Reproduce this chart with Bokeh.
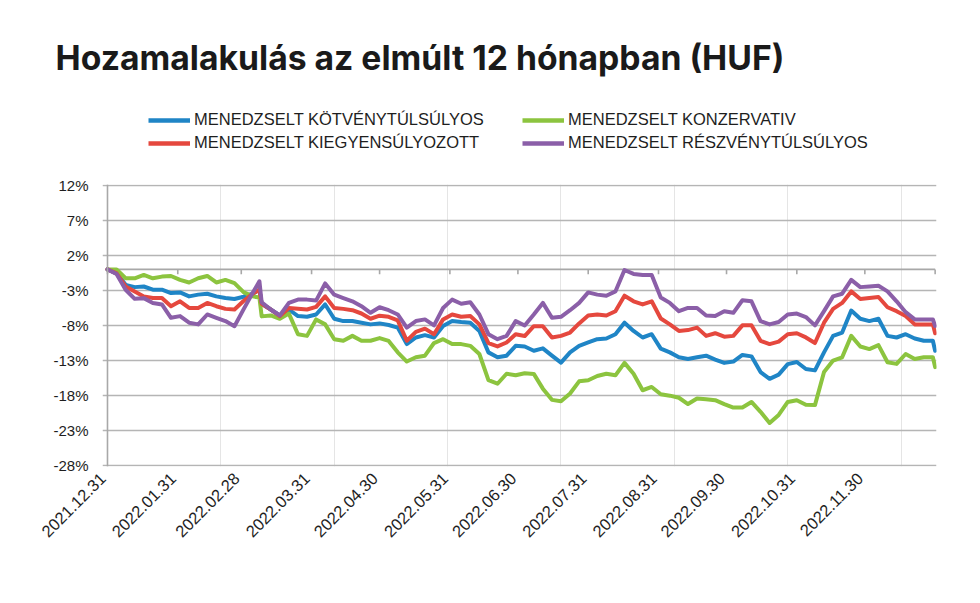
import math
import datetime as dt
from bokeh.plotting import figure
from bokeh.layouts import column
from bokeh.models import (ColumnDataSource, FixedTicker, Legend, LegendItem, Label,
                          Span, Range1d, LinearAxis)
from bokeh.embed import file_html
from bokeh.resources import INLINE

# ---------------- data ----------------
dates = [
    "2021-12-31", "2022-01-04", "2022-01-08", "2022-01-12", "2022-01-16", "2022-01-20",
    "2022-01-24", "2022-01-28", "2022-02-01", "2022-02-05", "2022-02-09", "2022-02-13",
    "2022-02-17", "2022-02-21", "2022-02-25", "2022-03-01", "2022-03-05", "2022-03-08",
    "2022-03-09", "2022-03-13", "2022-03-17", "2022-03-21", "2022-03-25", "2022-03-29",
    "2022-04-02", "2022-04-06", "2022-04-10", "2022-04-14", "2022-04-18", "2022-04-22",
    "2022-04-26", "2022-04-30", "2022-05-04", "2022-05-08", "2022-05-12", "2022-05-16",
    "2022-05-20", "2022-05-24", "2022-05-28", "2022-06-01", "2022-06-05", "2022-06-09",
    "2022-06-13", "2022-06-17", "2022-06-21", "2022-06-25", "2022-06-29", "2022-07-03",
    "2022-07-07", "2022-07-11", "2022-07-15", "2022-07-19", "2022-07-23", "2022-07-27",
    "2022-07-31", "2022-08-04", "2022-08-08", "2022-08-12", "2022-08-16", "2022-08-20",
    "2022-08-24", "2022-08-28", "2022-09-01", "2022-09-05", "2022-09-09", "2022-09-13",
    "2022-09-17", "2022-09-21", "2022-09-25", "2022-09-29", "2022-10-03", "2022-10-07",
    "2022-10-11", "2022-10-15", "2022-10-19", "2022-10-23", "2022-10-27", "2022-10-31",
    "2022-11-04", "2022-11-08", "2022-11-12", "2022-11-16", "2022-11-20", "2022-11-24",
    "2022-11-28", "2022-12-02", "2022-12-06", "2022-12-10", "2022-12-14", "2022-12-18",
    "2022-12-22", "2022-12-26", "2022-12-30", "2022-12-31",
]

kotveny = [
    0.0, -0.56, -2.2, -2.53, -2.44, -2.9, -2.9, -3.38, -3.28, -3.85, -3.6, -3.47,
    -3.85, -4.08, -4.22, -3.9, -3.47, -2.9, -4.9, -5.72, -6.57, -5.72, -6.66, -6.76,
    -6.43, -5.0, -7.04, -7.37, -7.37, -7.6, -7.84, -7.7, -7.93, -8.3, -10.65, -9.71,
    -9.38, -9.71, -8.07, -7.37, -7.5, -7.6, -8.77, -11.83, -12.53, -12.3, -10.9, -11.0,
    -11.6, -11.26, -12.3, -13.3, -11.83, -10.9, -10.42, -9.95, -9.85, -9.24, -7.6, -8.77,
    -9.71, -9.24, -11.3, -11.83, -12.53, -12.77, -12.53, -12.3, -12.86, -13.33, -13.14, -12.2,
    -12.4, -14.64, -15.6, -15.0, -13.5, -13.2, -14.2, -14.4, -11.83, -9.48, -9.0, -5.87,
    -7.04, -7.37, -7.04, -9.48, -9.71, -9.24, -9.85, -10.18, -10.18, -11.6,
]

kiegyensulyozott = [
    0.0, -0.56, -2.44, -3.14, -3.85, -4.08, -4.08, -5.25, -4.55, -5.5, -5.5, -4.78,
    -5.25, -5.63, -5.72, -4.5, -3.47, -2.9, -4.9, -5.72, -6.66, -5.5, -5.6, -5.72,
    -5.35, -3.85, -5.5, -5.63, -5.82, -6.29, -7.04, -6.6, -6.76, -7.27, -10.18, -8.9,
    -8.45, -9.24, -7.13, -6.43, -6.76, -6.66, -7.84, -10.5, -10.98, -10.42, -9.24, -9.5,
    -8.1, -8.1, -9.71, -9.48, -9.0, -7.7, -6.57, -6.43, -6.57, -5.96, -3.75, -4.55,
    -5.0, -4.55, -7.0, -7.84, -8.77, -8.65, -8.3, -9.48, -9.1, -9.6, -9.48, -7.98,
    -7.98, -10.18, -10.65, -10.3, -9.24, -9.1, -9.7, -10.5, -7.6, -5.63, -4.78, -3.14,
    -4.22, -4.08, -3.94, -5.4, -5.96, -6.66, -7.84, -7.84, -7.84, -9.1,
]

konzervativ = [
    0.0, 0.0, -1.27, -1.27, -0.8, -1.27, -1.03, -0.94, -1.5, -1.87, -1.27, -0.94,
    -1.87, -1.5, -1.97, -3.25, -3.85, -4.0, -6.7, -6.57, -7.04, -6.3, -9.24, -9.48,
    -7.13, -7.84, -9.95, -10.18, -9.48, -10.18, -10.18, -9.8, -10.2, -11.83, -13.14, -12.53,
    -12.3, -10.5, -9.95, -10.65, -10.65, -10.9, -12.06, -15.8, -16.3, -14.88, -15.1, -14.8,
    -14.9, -17.0, -18.6, -18.8, -17.7, -15.96, -15.8, -15.2, -14.88, -15.1, -13.33, -14.88,
    -17.23, -16.76, -17.8, -18.0, -18.3, -19.2, -18.4, -18.5, -18.65, -19.2, -19.7, -19.7,
    -18.9, -20.3, -21.9, -20.75, -18.9, -18.65, -19.3, -19.35, -14.64, -13.0, -12.53, -9.48,
    -11.0, -11.36, -10.8, -13.23, -13.47, -12.06, -12.77, -12.53, -12.53, -13.94,
]

reszveny = [
    0.0, -0.65, -2.9, -4.2, -4.1, -4.78, -5.0, -6.9, -6.66, -7.6, -7.84, -6.43,
    -6.9, -7.37, -8.1, -5.7, -3.38, -1.7, -4.7, -5.72, -6.57, -4.78, -4.31, -4.31,
    -4.45, -2.0, -3.6, -4.08, -4.55, -5.25, -6.19, -5.4, -5.82, -6.43, -8.3, -7.37,
    -7.13, -7.98, -5.5, -4.31, -4.9, -4.69, -6.43, -9.24, -9.95, -9.48, -7.37, -8.0,
    -6.43, -4.78, -6.9, -6.76, -5.82, -4.78, -3.28, -3.6, -3.75, -3.14, -0.09, -0.65,
    -0.8, -0.8, -4.0, -4.78, -5.96, -5.5, -5.5, -6.57, -6.66, -5.96, -6.19, -4.4,
    -4.55, -7.37, -7.84, -7.5, -6.43, -6.3, -6.8, -7.98, -5.96, -3.85, -3.47, -1.5,
    -2.53, -2.44, -2.34, -3.14, -4.55, -6.1, -7.13, -7.13, -7.13, -8.07,
]

series_names = [
    "MENEDZSELT KÖTVÉNYTÚLSÚLYOS",
    "MENEDZSELT KONZERVATIV",
    "MENEDZSELT KIEGYENSÚLYOZOTT",
    "MENEDZSELT RÉSZVÉNYTÚLSÚLYOS",
]
series_colors = ["#1f85c6", "#8cc43f", "#e5483e", "#8b5fa8"]

tick_dates = ["2021-12-31", "2022-01-31", "2022-02-28", "2022-03-31", "2022-04-30",
              "2022-05-31", "2022-06-30", "2022-07-31", "2022-08-31", "2022-09-30",
              "2022-10-31", "2022-11-30", "2022-12-31"]
tick_labels = ["2021.12.31", "2022.01.31", "2022.02.28", "2022.03.31", "2022.04.30",
               "2022.05.31", "2022.06.30", "2022.07.31", "2022.08.31", "2022.09.30",
               "2022.10.31", "2022.11.30", ""]
y_ticks = [-28, -23, -18, -13, -8, -3, 2, 7, 12]

title_text = "Hozamalakulás az elmúlt 12 hónapban (HUF)"

# ---------------- helpers ----------------
origin = dt.date(2021, 12, 31)


def day_of(s):
    return (dt.date.fromisoformat(s) - origin).days


days = [day_of(d) for d in dates]
tick_days = [day_of(d) for d in tick_dates]

LABEL_FONT = "Liberation Sans"
GRID = "#b5b5b5"
AXIS = "#a8a8a8"
TEXT = "#1e1e1e"
HEADER_H = 160
X_START, X_END = -2.2, 365.6   # grid lines reach a little left of the value axis
LABEL_SHIFT = 2.1              # rotated date labels end just left of their tick

# ---------------- header (title + legend) ----------------
hp = figure(width=980, height=HEADER_H, output_backend="svg", toolbar_location=None,
            x_range=Range1d(0, 980), y_range=Range1d(HEADER_H, 0),
            x_axis_location=None, y_axis_location=None, min_border=0)
hp.outline_line_color = None
hp.grid.visible = False
hp.background_fill_color = "white"
hp.border_fill_color = "white"
try:
    hp.frame_align = False
except Exception:
    pass

hp.add_layout(Label(x=55, y=57, text=title_text, text_font="Inter",
                    text_font_style="bold", text_font_size="33.7px",
                    text_color="#1a1a1a", text_baseline="alphabetic"))

dummy = [hp.line(x=[0, 1], y=[1000, 1000], line_color=c, line_width=4.5)
         for c in series_colors]
items = [LegendItem(label=n, renderers=[r]) for n, r in zip(series_names, dummy)]
legend = Legend(items=items, location=(148, HEADER_H - 152), ncols=2,
                orientation="horizontal",
                glyph_width=42, glyph_height=18, label_height=18, label_standoff=4,
                label_width=324, spacing=4, padding=0, margin=0,
                label_text_font=LABEL_FONT, label_text_font_size="16.5px",
                label_text_color=TEXT,
                border_line_alpha=0, background_fill_alpha=0)
hp.add_layout(legend, "center")

# ---------------- main chart ----------------
p = figure(width=980, height=603 - HEADER_H, output_backend="svg", toolbar_location=None,
           x_range=Range1d(X_START, X_END), y_range=Range1d(-28.1, 12.1),
           x_axis_location=None,
           min_border_left=102, min_border_right=44, min_border_top=184 - HEADER_H,
           min_border_bottom=137)
p.outline_line_color = None
p.background_fill_color = "white"
p.border_fill_color = "white"
try:
    p.frame_align = False
except Exception:
    pass

p.ygrid.ticker = FixedTicker(ticks=y_ticks)
p.ygrid.grid_line_color = GRID
p.ygrid.grid_line_width = 1.6

p.yaxis.ticker = FixedTicker(ticks=y_ticks)
p.yaxis.major_label_overrides = {t: f"{t}%" for t in y_ticks}
p.yaxis.axis_line_color = None
p.yaxis.major_tick_line_color = None
p.yaxis.minor_tick_line_color = None
p.yaxis.major_label_text_font = LABEL_FONT
p.yaxis.major_label_text_font_size = "15px"
p.yaxis.major_label_text_color = TEXT
p.yaxis.major_label_standoff = 8

# value axis line at the first date
p.add_layout(Span(location=tick_days[0], dimension="height", line_color=AXIS,
                  line_width=1.6))

# date labels on a slightly shifted range so that their ends meet the ticks
p.extra_x_ranges = {"labels": Range1d(X_START + LABEL_SHIFT, X_END + LABEL_SHIFT)}
xaxis = LinearAxis(x_range_name="labels", ticker=FixedTicker(ticks=tick_days))
xaxis.major_label_overrides = {d: l for d, l in zip(tick_days, tick_labels)}
xaxis.major_label_orientation = math.pi / 4
xaxis.axis_line_color = None
xaxis.major_tick_line_color = None
xaxis.minor_tick_line_color = None
xaxis.major_label_text_font = LABEL_FONT
xaxis.major_label_text_font_size = "16.5px"
xaxis.major_label_text_color = TEXT
xaxis.major_label_standoff = 3
p.add_layout(xaxis, "below")

# zero line (category axis) with month tick marks
p.segment(x0=[tick_days[0]], y0=[0], x1=[tick_days[-1]], y1=[0],
          line_color=AXIS, line_width=1.6)
p.segment(x0=tick_days, y0=[0] * len(tick_days), x1=tick_days,
          y1=[-0.7] * len(tick_days), line_color=AXIS, line_width=1.6)

src = ColumnDataSource(dict(day=days, kotveny=kotveny, konzervativ=konzervativ,
                            kiegyensulyozott=kiegyensulyozott, reszveny=reszveny))
cols = ["kotveny", "konzervativ", "kiegyensulyozott", "reszveny"]
for col, color in zip(cols, series_colors):
    p.line("day", col, source=src, line_color=color, line_width=4,
           line_join="round", line_cap="round")

layout = column(hp, p, spacing=0)
open("out.html", "w").write(file_html(layout, INLINE))
